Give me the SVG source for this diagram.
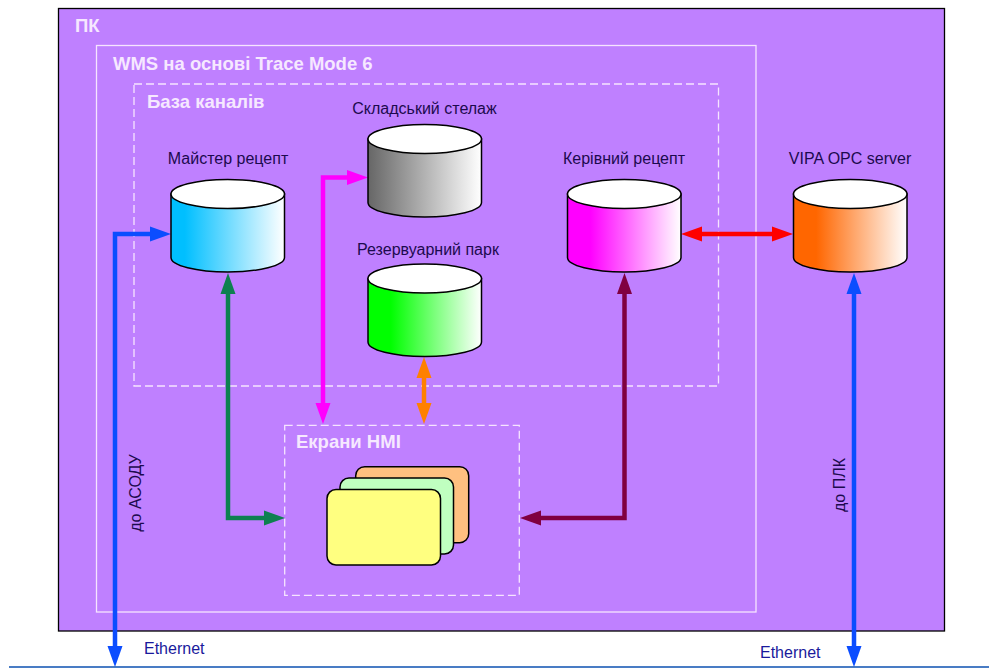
<svg xmlns="http://www.w3.org/2000/svg" width="989" height="668" viewBox="0 0 989 668">
<style>
.t{font-family:"Liberation Sans",Arial,sans-serif}
.h{font-size:18.500px;font-weight:bold;fill:#f6e8ff}
.l{font-size:16px;fill:#1c0a4e}
.e{font-size:16px;fill:#1a1a9c}
.d{fill:none;stroke:#f6e4ff;stroke-width:1.300;stroke-dasharray:8 4}
.s{fill:none;stroke:#f6e4ff;stroke-width:1.300}
.c{stroke:#000;stroke-width:1.500}
.top{fill:#fff;stroke:#000;stroke-width:1.500}
.a{fill:none;stroke-width:4.500}
.card{stroke:#000;stroke-width:1.500}
</style>
<defs>
<linearGradient id="gB"><stop offset="0.120" stop-color="#00bfff"/><stop offset="1" stop-color="#fff"/></linearGradient>
<linearGradient id="gG"><stop offset="0" stop-color="#666"/><stop offset="1" stop-color="#fff"/></linearGradient>
<linearGradient id="gL"><stop offset="0.200" stop-color="#0f0"/><stop offset="1" stop-color="#fff"/></linearGradient>
<linearGradient id="gM"><stop offset="0.200" stop-color="#f0f"/><stop offset="1" stop-color="#fff"/></linearGradient>
<linearGradient id="gO"><stop offset="0.200" stop-color="#f60"/><stop offset="1" stop-color="#fff"/></linearGradient>
<path id="body" d="M0 14.500V78A56.750 14.500 0 0 0 113.500 78V14.500Z"/>
<marker id="mBlue" markerUnits="userSpaceOnUse" markerWidth="22" markerHeight="16" refX="0" refY="8" orient="auto-start-reverse"><path d="M0 0.500L21 8L0 15.500Z" fill="#0b4dff"/></marker>
<marker id="mGreen" markerUnits="userSpaceOnUse" markerWidth="22" markerHeight="16" refX="0" refY="8" orient="auto-start-reverse"><path d="M0 0.500L21 8L0 15.500Z" fill="#0e8050"/></marker>
<marker id="mMag" markerUnits="userSpaceOnUse" markerWidth="22" markerHeight="16" refX="0" refY="8" orient="auto-start-reverse"><path d="M0 0.500L21 8L0 15.500Z" fill="#f0f"/></marker>
<marker id="mOr" markerUnits="userSpaceOnUse" markerWidth="22" markerHeight="16" refX="0" refY="8" orient="auto-start-reverse"><path d="M0 0.500L21 8L0 15.500Z" fill="#ff8000"/></marker>
<marker id="mRed" markerUnits="userSpaceOnUse" markerWidth="22" markerHeight="16" refX="0" refY="8" orient="auto-start-reverse"><path d="M0 0.500L21 8L0 15.500Z" fill="#f00"/></marker>
<marker id="mMar" markerUnits="userSpaceOnUse" markerWidth="22" markerHeight="16" refX="0" refY="8" orient="auto-start-reverse"><path d="M0 0.500L21 8L0 15.500Z" fill="#800040"/></marker>
</defs>
<rect width="989" height="668" fill="#fff"/>
<g id="pk"><rect x="58.500" y="8.500" width="886" height="622.500" fill="#bf80ff" stroke="#000" stroke-width="1.300"/><text class="t h" x="75" y="32">ПК</text></g>
<g id="wms"><rect class="s" x="96.500" y="45.500" width="659.500" height="566.500"/><text class="t h" x="113" y="69.500">WMS на основі Trace Mode 6</text></g>
<g id="base"><rect class="d" x="134" y="84" width="584.500" height="302"/><text class="t h" x="147" y="108">База каналів</text></g>
<g id="hmi">
<rect class="d" x="284.700" y="425.300" width="234.600" height="170"/>
<text class="t h" x="296" y="448">Екрани HMI</text>
<rect class="card" x="355.700" y="466.700" width="113" height="76" rx="9" fill="#ffc080"/>
<rect class="card" x="340" y="478" width="113.500" height="76" rx="9" fill="#c0ffc0"/>
<rect class="card" x="327" y="489.500" width="113.500" height="75.500" rx="9" fill="#ffff80"/>
</g>
<g id="connectors">
<path class="a" stroke="#0b4dff" d="M150 234H115V646" marker-start="url(#mBlue)" marker-end="url(#mBlue)"/>
<path class="a" stroke="#0e8050" d="M228 294V518H264" marker-start="url(#mGreen)" marker-end="url(#mGreen)"/>
<path class="a" stroke="#f0f" d="M347 177.500H323V403" marker-start="url(#mMag)" marker-end="url(#mMag)"/>
<path class="a" stroke="#ff8000" d="M424 378V403" marker-start="url(#mOr)" marker-end="url(#mOr)"/>
<path class="a" stroke="#f00" d="M702 234H772" marker-start="url(#mRed)" marker-end="url(#mRed)"/>
<path class="a" stroke="#800040" d="M624.500 294V518H541" marker-start="url(#mMar)" marker-end="url(#mMar)"/>
<path class="a" stroke="#0b4dff" d="M854 294V646" marker-start="url(#mBlue)" marker-end="url(#mBlue)"/>
</g>
<g id="master"><use href="#body" x="171" y="179.500" fill="url(#gB)" class="c"/><ellipse class="top" cx="227.750" cy="194" rx="56.750" ry="14.500"/><text class="t l" x="228" y="164" text-anchor="middle">Майстер рецепт</text></g>
<g id="rack"><use href="#body" x="368" y="124.500" fill="url(#gG)" class="c"/><ellipse class="top" cx="424.750" cy="139" rx="56.750" ry="14.500"/><text class="t l" x="424.500" y="114" text-anchor="middle">Складський стелаж</text></g>
<g id="tanks"><use href="#body" x="368" y="264" fill="url(#gL)" class="c"/><ellipse class="top" cx="424.750" cy="278.500" rx="56.750" ry="14.500"/><text class="t l" x="428" y="255" text-anchor="middle">Резервуарний парк</text></g>
<g id="control"><use href="#body" x="567.500" y="179.500" fill="url(#gM)" class="c"/><ellipse class="top" cx="624.250" cy="194" rx="56.750" ry="14.500"/><text class="t l" x="624" y="164" text-anchor="middle">Керівний рецепт</text></g>
<g id="opc"><use href="#body" x="793.500" y="179.500" fill="url(#gO)" class="c"/><ellipse class="top" cx="850.250" cy="194" rx="56.750" ry="14.500"/><text class="t l" x="850" y="164" text-anchor="middle">VIPA OPC server</text></g>
<g id="labels">
<text class="t l" transform="translate(141 493) rotate(-90)" text-anchor="middle">до АСОДУ</text>
<text class="t l" transform="translate(845 485) rotate(-90)" text-anchor="middle">до ПЛК</text>
<text class="t e" x="144" y="654">Ethernet</text>
<text class="t e" x="760" y="658">Ethernet</text>
</g>
<path id="ground" d="M9 667H989" stroke="#0d50b0" stroke-width="1.500" fill="none"/>
</svg>
